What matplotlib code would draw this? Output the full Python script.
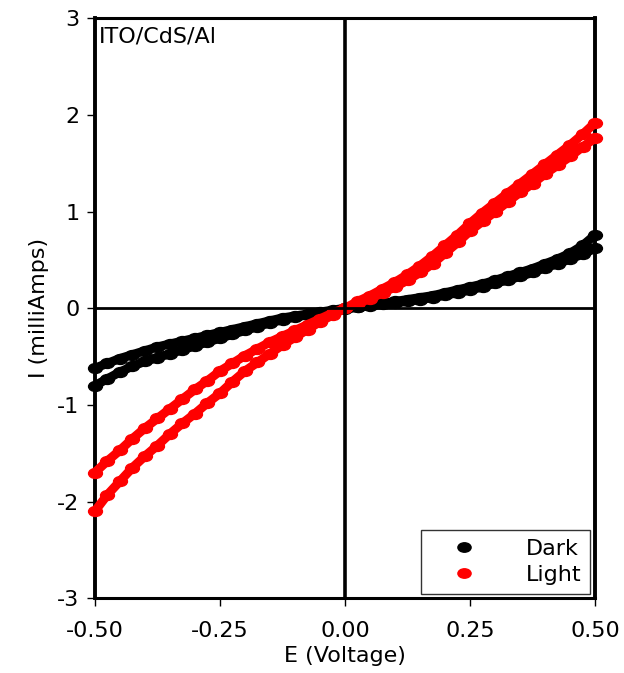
import matplotlib
matplotlib.use('Agg')
import matplotlib.pyplot as plt
from matplotlib.path import Path
from matplotlib.transforms import Affine2D

plt.rcParams['font.family'] = ['DejaVu Sans']
plt.rcParams['axes.unicode_minus'] = False

# sweep voltage (V)
E = [-0.5, -0.475, -0.45, -0.425, -0.4, -0.375, -0.35, -0.325, -0.3, -0.275,
     -0.25, -0.225, -0.2, -0.175, -0.15, -0.125, -0.1, -0.075, -0.05, -0.025,
     0.0, 0.025, 0.05, 0.075, 0.1, 0.125, 0.15, 0.175, 0.2, 0.225,
     0.25, 0.275, 0.3, 0.325, 0.35, 0.375, 0.4, 0.425, 0.45, 0.475, 0.5]

# dark current, two sweeps (mA)
dark_a = [-0.62, -0.57, -0.52, -0.48, -0.44, -0.40, -0.37, -0.34, -0.31, -0.28,
          -0.25, -0.22, -0.19, -0.16, -0.13, -0.10, -0.08, -0.06, -0.04, -0.02,
          0.0, 0.01, 0.025, 0.04, 0.055, 0.07, 0.09, 0.11, 0.135, 0.16,
          0.19, 0.22, 0.26, 0.29, 0.33, 0.37, 0.42, 0.46, 0.51, 0.56, 0.62]
dark_b = [-0.80, -0.73, -0.66, -0.60, -0.55, -0.51, -0.47, -0.43, -0.39, -0.35,
          -0.31, -0.27, -0.23, -0.19, -0.15, -0.12, -0.09, -0.07, -0.05, -0.03,
          -0.01, 0.01, 0.03, 0.05, 0.07, 0.09, 0.11, 0.13, 0.16, 0.19,
          0.22, 0.25, 0.29, 0.33, 0.37, 0.41, 0.46, 0.51, 0.57, 0.65, 0.76]

# light current, two sweeps (mA)
light_a = [-1.70, -1.58, -1.47, -1.35, -1.24, -1.14, -1.04, -0.94, -0.84, -0.75,
           -0.65, -0.57, -0.49, -0.42, -0.35, -0.29, -0.23, -0.17, -0.11, -0.05,
           0.0, 0.05, 0.10, 0.16, 0.22, 0.29, 0.37, 0.46, 0.57, 0.68,
           0.80, 0.90, 1.00, 1.10, 1.20, 1.29, 1.39, 1.48, 1.57, 1.67, 1.76]
light_b = [-2.10, -1.93, -1.79, -1.65, -1.53, -1.42, -1.30, -1.19, -1.09, -0.98,
           -0.88, -0.76, -0.65, -0.56, -0.47, -0.38, -0.30, -0.22, -0.14, -0.07,
           0.0, 0.07, 0.13, 0.20, 0.27, 0.35, 0.44, 0.54, 0.65, 0.76,
           0.88, 0.99, 1.09, 1.19, 1.29, 1.39, 1.49, 1.59, 1.69, 1.80, 1.92]

# the original picture is stretched sideways, so dots are slightly oval
oval = Affine2D().scale(1.4, 1.0).transform_path(Path.unit_circle())

fig = plt.figure(figsize=(6.24, 6.73), dpi=100)
ax = fig.add_axes([0.152, 0.111, 0.802, 0.862])

for ys in (dark_a, dark_b):
    ax.plot(E, ys, color='black', lw=6.5, solid_capstyle='round', clip_on=False, zorder=2)
    ax.plot(E, ys, ls='none', marker=oval, color='black', ms=10, clip_on=False, zorder=2)
for ys in (light_a, light_b):
    ax.plot(E, ys, color='#ff0000', lw=6.5, solid_capstyle='round', clip_on=False, zorder=3)
    ax.plot(E, ys, ls='none', marker=oval, color='#ff0000', ms=10, clip_on=False, zorder=3)

# legend handles
hd, = ax.plot([], [], ls='none', marker=oval, color='black', ms=9.5)
hl, = ax.plot([], [], ls='none', marker=oval, color='#ff0000', ms=9.5)
leg = ax.legend([hd, hl], ['Dark', 'Light'], loc='lower right',
                bbox_to_anchor=(0.99, 0.008), borderaxespad=0, fontsize=16,
                frameon=True, fancybox=False, edgecolor='black',
                handlelength=3.0, handletextpad=1.3, borderpad=0.4,
                labelspacing=0.25)
leg.get_frame().set_linewidth(1.0)
leg.set_zorder(5)

ax.axhline(0, color='black', lw=2.0, zorder=4)
ax.axvline(0, color='black', lw=2.6, zorder=4)

ax.set_xlim(-0.5, 0.5)
ax.set_ylim(-3, 3)
ax.set_xticks([-0.5, -0.25, 0.0, 0.25, 0.5])
ax.set_xticklabels(['-0.50', '-0.25', '0.00', '0.25', '0.50'])
ax.set_yticks([-3, -2, -1, 0, 1, 2, 3])
ax.tick_params(direction='out', length=6, width=1, labelsize=16,
               top=False, right=False)
ax.tick_params(axis='x', pad=10)
ax.tick_params(axis='y', pad=5)
for side in ('left', 'right'):
    ax.spines[side].set_linewidth(2.8)
for side in ('top', 'bottom'):
    ax.spines[side].set_linewidth(2.2)

ax.set_xlabel('E (Voltage)', fontsize=16, labelpad=4)
ax.set_ylabel('I (milliAmps)', fontsize=16, labelpad=6)
ax.text(0.008, 0.985, 'ITO/CdS/Al', transform=ax.transAxes, fontsize=16,
        ha='left', va='top')

fig.savefig('out.png', dpi=100)
